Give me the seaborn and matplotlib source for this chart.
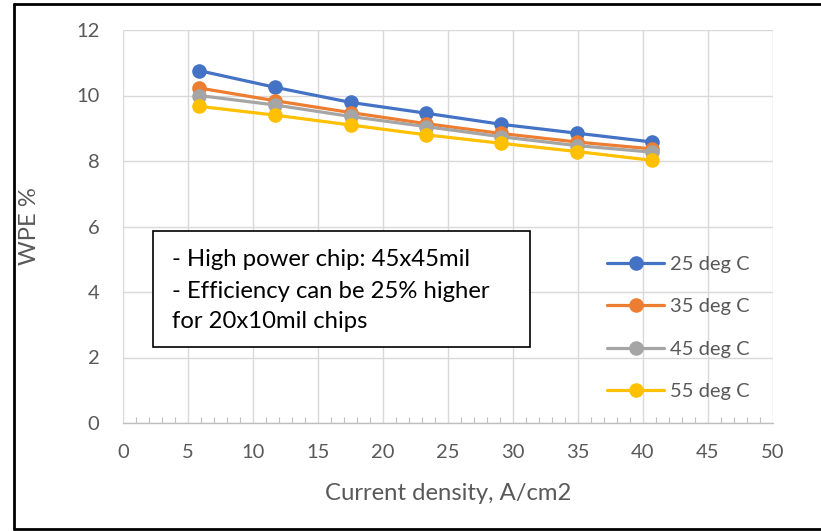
import matplotlib
matplotlib.use("Agg")
import matplotlib.pyplot as plt
import seaborn as sns
import pandas as pd
from matplotlib.patches import Rectangle
from matplotlib.lines import Line2D
from matplotlib.ticker import MultipleLocator

current_density = [5.85, 11.7, 17.5, 23.3, 29.1, 34.9, 40.7]
wpe_25 = [10.76, 10.25, 9.79, 9.46, 9.12, 8.85, 8.58]
wpe_35 = [10.23, 9.84, 9.48, 9.14, 8.84, 8.58, 8.37]
wpe_45 = [10.00, 9.71, 9.36, 9.05, 8.74, 8.47, 8.27]
wpe_55 = [9.67, 9.40, 9.10, 8.80, 8.54, 8.29, 8.02]
series_names = ["25 deg C", "35 deg C", "45 deg C", "55 deg C"]
colors = ["#4472C4", "#ED7D31", "#A5A5A5", "#FFC000"]
note_lines = ["- High power chip: 45x45mil",
              "- Efficiency can be 25% higher",
              "for 20x10mil chips"]

rows = []
for name, vals in zip(series_names, [wpe_25, wpe_35, wpe_45, wpe_55]):
    for x, y in zip(current_density, vals):
        rows.append({"x": x, "y": y, "series": name})
df = pd.DataFrame(rows)

sns.set_style("white")
plt.rcParams['font.family'] = ['Lato', 'DejaVu Sans']

W, H = 821, 531
fig = plt.figure(figsize=(W / 100, H / 100), dpi=100)
ax = fig.add_axes([123 / W, 1 - 423 / H, 650 / W, 393 / H])

sns.lineplot(data=df, x="x", y="y", hue="series", hue_order=series_names,
             palette=colors, marker="o", markersize=10.5, markeredgewidth=0,
             linewidth=2.3, ax=ax, sort=False)

ax.set_xlim(0, 50)
ax.set_ylim(0, 12)
ax.xaxis.set_major_locator(MultipleLocator(5))
ax.xaxis.set_minor_locator(MultipleLocator(1))
ax.yaxis.set_major_locator(MultipleLocator(2))
ax.grid(True, which="major", color="#d9d9d9", linewidth=1.0)
ax.set_axisbelow(True)
for s in ["top", "right", "left"]:
    ax.spines[s].set_visible(False)
ax.spines["bottom"].set_color("#bfbfbf")
ax.spines["bottom"].set_linewidth(1.0)
ax.tick_params(axis="x", which="major", length=0, pad=15, labelsize=14.5, labelcolor="#595959")
ax.tick_params(axis="x", which="minor", direction="in", length=4, color="#bfbfbf", width=0.8, bottom=True)
ax.tick_params(axis="y", which="major", length=0, pad=17, labelsize=14.5, labelcolor="#595959")

ax.set_xlabel("Current density, A/cm2", fontsize=17.2, color="#595959")
ax.set_ylabel("WPE %", fontsize=17.2, color="#595959")
ax.xaxis.set_label_coords(0.5, -(493 - 423) / 393)
ax.yaxis.set_label_coords(-(123 - 30) / 650, 0.5)
ax.xaxis.label.set_va("center")
ax.yaxis.label.set_va("center")

leg = ax.legend(loc="upper left", bbox_to_anchor=((607 - 123) / 650, 1 - (256 - 30) / 393),
                frameon=False, fontsize=14.5, labelspacing=1.25, handlelength=2.85,
                handletextpad=0.3, borderpad=0, borderaxespad=0)
for t in leg.get_texts():
    t.set_color("#595959")

# annotation box
fig.patches.append(Rectangle((153 / W, 1 - 347 / H), (530 - 153) / W, (347 - 231) / H,
                             transform=fig.transFigure, facecolor="white",
                             edgecolor="black", linewidth=1.2, zorder=5))
for line, yc in zip(note_lines, [259, 291, 321]):
    fig.text(172 / W, 1 - yc / H, line, fontsize=17.2, color="black",
             va="center", ha="left", zorder=6)

# outer frame (left, top, bottom edges visible)
for xs, ys in [([14, 14], [4, 529]), ([14, W], [4, 4]), ([14, W], [529, 529])]:
    fig.lines.append(Line2D([x / W for x in xs], [1 - y / H for y in ys],
                            transform=fig.transFigure, color="black", linewidth=2))

fig.savefig("out.png", dpi=100)
